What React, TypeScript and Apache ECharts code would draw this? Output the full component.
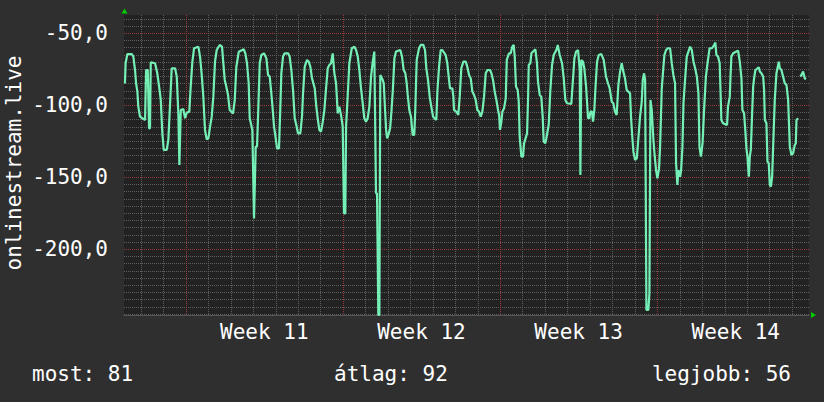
import React, { useEffect, useRef } from "react";
import * as echarts from "echarts";

// Hours relative to the start (Monday 00:00) of Week 11
const hours: number[] = [
  -65, -64.3, -62.4, -57.7, -56, -54.2, -53.1, -51.7, -50.7, -48.9, -43.5, -42.4, -40.6, -39.2, -38.2, -37.4, -32.8, -30.4, -28.2, -26.7,
  -25, -23.5, -20.3, -18.6, -16.8, -15, -11.4, -9.6, -7.9, -6.8, -5.3, -2.6, -0.7, 1.1, 3.8, 5.3, 7.1, 8.9, 13.5, 15.3,
  17.1, 18.8, 20.6, 22.4, 24.2, 26, 27.8, 29.5, 31.3, 33.1,
  36.3, 38.8, 39.9, 41.7, 43.4, 45.2, 47, 50.6, 52.4, 54.1, 56.7, 62, 63.7, 65.5, 67.3, 68.4, 71.2, 73, 74.8, 76.2,
  77.3, 79.1, 80.8, 83.7, 86.2, 88, 89.8, 91.5, 92.6, 94.4, 96.2, 97.6, 99.7, 101.1, 102.2, 104, 105.8, 109.4, 111.1, 112.9,
  114.7, 116.5, 118.2, 120, 122.5, 124.3, 125.4, 127.2, 129.7, 131.5, 133.2, 135, 137.9, 139.6, 141.1,
  142.8, 144.6, 146.5, 148.2, 150, 151.8, 153.5, 155.3, 157.1, 158.9, 160.7, 162.5, 164.2, 166, 167.8, 169.2, 170.6, 171.4, 173.2, 174.9,
  177.5, 180.3, 182.1, 183.9, 185.6, 187.4, 189.2, 190.9, 192.7, 194.5, 196.3, 198.1, 199.9, 201.6, 203.4, 204.5, 205.9, 207, 208, 210.6,
  211.7, 213.1, 214.2, 215.3, 217.1, 218.5, 219.9, 221.4, 223.1, 224.8, 229.4, 231.2, 233, 234.8, 236.2, 237.3, 239, 240.8, 242.6, 244.3, 245.4,
  246.9, 249.4, 251.2, 254, 255.8, 257.2, 259, 260.8, 262.5, 264.4, 267.9, 269, 270.8, 272.6, 274.3, 277.9, 279.6, 281.5, 282.5, 285,
  286.1, 286.8, 289.3, 291.4, 292.9, 294.6, 296.8, 299.3, 301, 302.9, 304.7, 306.4, 308.2, 310, 311.7, 313.5, 315.4, 317.1, 318.9, 320.7,
  322.5, 325.3, 326.8, 328.5, 330.3, 332.1, 333.9, 335, 336, 337.4, 338.5, 340.3, 342.1, 343.2, 345.6, 347.4, 349.1,
  350.6, 351.7, 353.1, 354.9, 356, 357, 358.8, 360.6, 361.7, 364.9, 366, 366.7, 368.4, 369.5, 373.8, 375.5, 376.6, 378.4, 380.1, 381.6,
  382.7, 384.4, 385.5, 388, 389.8, 391.6, 393.4, 396.2, 397.7, 399.8, 402.3, 404.1, 405.8, 407.6, 412.2, 413.7, 415.5, 417.3, 419.4, 421.2,
  421.9, 422.9, 424.7, 426.1, 428, 430.1, 431.5, 432.6, 434.3, 435.4, 436.8, 437.9, 439.7, 441.5, 444.3, 446.8, 449.3, 451.4, 453.2,
  455.4, 457.1, 458.9, 460.7, 462.5, 464.3, 466.1, 467.8, 469.6, 471.4, 475, 476.1, 477.5, 478.6, 480.4, 482.2, 483.9, 485.7, 487.5, 488.6,
  490, 491.1, 492.5, 494.6, 495.7, 496.8, 498.2, 500, 501.4, 502.8, 504.2, 506, 507.1, 508.9, 510.7, 511.7, 513.5, 515.3, 517.8, 519.6,
  521.3, 523.1, 524.2, 525.6, 526.7, 528.5, 529.6, 531, 532.1, 533.8, 535.6, 537.4, 539.2, 541, 542.8, 544.6, 546.4, 548.1, 549.2, 550.7,
  552.5, 554.3, 556.1, 557.8, 560,
  562.6, 564.8, 566.2, 567.3, 569.1, 570.8, 571.9, 572.6, 574.4, 578.7, 579.7, 581.6, 582.3, 583.3, 585.2, 588.7, 590.5, 592.3, 594.1, 595.1,
  596.9, 598.3, 599.4, 600.5, 602, 603, 604.1, 605.5, 606.6, 607.6, 609, 612.6, 613.7, 615.4, 617.3, 618.3, 619.1, 620.8, 621.9, 623.3,
  624.4, 625.5, 626.9, 627.9, 629.7, 631.5, 634, 635.1, 636.8, 638.6, 640.4, 642.2, 644, 645.8, 647.5, 649.3, 651.1, 652.2, 652.9, 654.7,
  656, 657.1, 658.2, 660, 661.8, 662.9,
];

const values: (number | null)[] = [
  -85, -71, -64.6, -64.6, -66.4, -75.7, -84.9, -90.7, -101.1, -108.1, -110.4, -75.7, -75.7, -116.2, -116.2, -70.4, -71, -78, -88.4, -96.5,
  -119.7, -131.2, -131.2, -124.3, -100, -74.5, -74.5, -80.3, -105.8, -141.7, -103.5, -102.8, -109.2, -105.3, -104.6, -87.3, -69.9, -60.6, -59.5, -66.4,
  -79.1, -94.2, -117.3, -123.8, -123.1, -115, -108.1, -94.2, -69.9, -61.8,
  -58.3, -59.5, -68.7, -82.6, -87.3, -93, -103.5, -105.8, -96.5, -73.4, -63, -61.3, -64.1, -71, -84.9, -109.2, -117.3, -178.7, -128.9, -128.9,
  -108.1, -71, -65.3, -64.1, -67.6, -79.1, -80.3, -91.9, -100, -115, -123.1, -130.1, -130.1, -102.3, -78, -66.4, -64.1, -64.1, -66.4, -75.7,
  -89.6, -109.2, -113.9, -119.7, -119.7, -108.1, -91.9, -73.4, -68.7, -69.9, -73.4, -81.5, -88.4, -101.1, -109.2,
  -117.3, -118.5, -111.6, -103.5, -88.4, -74.5, -72.2, -71, -64.1, -78, -84.9, -105.8, -101.1, -106.9, -115, -175.2, -175.2, -115, -93, -71,
  -60.6, -59.5, -61.8, -66.4, -75.7, -88.4, -98.8, -109.2, -111.6, -109.2, -101.1, -80.3, -69.9, -62.9, -161.3, -161.3, -245.8, -245.8, -79.1, -82.6,
  -84.9, -103.5, -117.3, -123.1, -119.7, -116.2, -104.6, -89.6, -67.6, -62.9, -61.8, -66.4, -75.7, -78, -84.9, -93, -103.5, -108.1, -120.8, -120.8, -103.5,
  -68.7, -60.6, -58.3, -58.3, -61.8, -74.5, -82.6, -94.2, -101.1, -108.1, -110.4, -90.7, -73.4, -61.8, -61.8, -65.3, -71, -82.6, -88.4, -88.4,
  -94.2, -103.5, -104.6, -106.9, -94.2, -74.5, -69.9, -69.9, -73.4, -79.1, -81.5, -90.7, -93, -96.5, -103.5, -104.6, -108.1, -104.6, -94.2, -78,
  -75.7, -75.7, -78, -82.6, -90.7, -96.5, -103.5, -106.9, -117.3, -111.6, -104.6, -102.3, -95.4, -68.7, -64.1, -64.1, -59.5,
  -58.3, -66.4, -87.3, -89.6, -97.7, -122, -135.9, -135.9, -126.6, -119.7, -94.2, -72.2, -71, -64.1, -61.3, -71, -83.8, -93, -94.2, -108.1,
  -125.4, -126.6, -123.1, -113.9, -89.6, -72.2, -65.3, -61.8, -58.3, -65.3, -71, -81.5, -96.5, -98.8, -99.3, -84.9, -67.6, -62.9, -61.8, -75.7,
  -148.6, -68.7, -69.9, -74.5, -87.3, -109.2, -109.2, -104.6, -104.6, -111.6, -103.5, -89.6, -69.9, -65.3, -64.6, -68.7, -80.3, -84.9, -88.4,
  -97.7, -98.8, -104.6, -106.9, -86.1, -76.8, -71, -76.8, -81.5, -89.6, -91.9, -109.2, -123.1, -132.4, -138.2, -137, -123.1, -108.1, -97.7, -82.6,
  -78, -82.6, -242.3, -242.3, -230.8, -96.5, -103.5, -124.3, -135.9, -145.1, -150.9, -144, -128.9, -88.4, -73.4, -65.3, -61.8, -60.6, -60.6, -71,
  -79.1, -84.9, -140.5, -155.5, -145.1, -149.8, -145.1, -128.9, -98.8, -82.6, -66.4, -62.9, -59.5, -61.8, -69.9, -74.5, -80.3, -91.9, -128.9, -135.9,
  -126.6, -101.1, -80.3, -71, -60.6,
  -60.6, -58.3, -56.7, -65.3, -66.4, -71, -94.2, -110.4, -112.7, -113.9, -101.1, -94.2, -81.5, -66.4, -64.1, -62.9, -62.3, -69.9, -81.5, -103.5,
  -105.8, -118.5, -130.1, -135.9, -149.8, -135.9, -131.2, -105.8, -87.3, -81.5, -75.7, -73.8, -76.8, -78, -80.3, -89.6, -110.4, -112.7, -139.3, -140.5,
  -155.5, -156.7, -149.8, -130.1, -96.5, -78, -69.9, -74.5, -75.7, -80.3, -84.9, -86.1, -96.5, -128.9, -134.7, -133.5, -127.8, -126.6, -110.4, -109.2,
  null, -80.3, -79.1, -76.8, -81.5, -82.2,
];

const weekCenters = [84, 252, 420, 588];
const weekLabels = ["Week 11", "Week 12", "Week 13", "Week 14"];
const weekStarts = [0, 168, 336, 504];
const dayLines = [-48, -24, 24, 48, 72, 96, 120, 144, 192, 216, 240, 264, 288, 312, 360, 384, 408, 432, 456, 480, 528, 552, 576, 600, 624, 648];
const yTicks = [-200, -150, -100, -50];
const yMinor = [
  -245, -240, -235, -230, -225, -220, -215, -210, -205, -195, -190, -185, -180, -175, -170, -165, -160, -155,
  -145, -140, -135, -130, -125, -120, -115, -110, -105, -95, -90, -85, -80, -75, -70, -65, -60, -55, -45, -40,
];
const statTexts = ["most: 81", "átlag: 92", "legjobb: 56"];
const axisName = "onlinestream.live";

const X_MIN = -66;
const X_MAX = 666.3;
const Y_MIN = -245.8;
const Y_MAX = -37.5;

const FONT = "DejaVu Sans Mono";
const FS = 21;
const MINOR = "#5e5e5e";
const MAJOR = "#9c3a3a";

export default function App() {
  const ref = useRef<HTMLDivElement>(null);

  useEffect(() => {
    if (!ref.current) return;
    const chart = echarts.init(ref.current, undefined, { renderer: "svg" });

    const lineData = hours.map((h, i) => [h, values[i] === null ? "-" : values[i]]);
    const font = `${FS}px "${FONT}"`;

    // grid tables: [x, y, isMajor, isVertical]
    const gridData = [
      ...yMinor.map((v) => [X_MIN, v, 0, 0]),
      ...yTicks.map((v) => [X_MIN, v, 1, 0]),
      ...dayLines.map((d) => [d, Y_MAX, 0, 1]),
      ...weekStarts.map((d) => [d, Y_MAX, 1, 1]),
    ];

    const gridRender = (params: any, api: any) => {
      const cs = params.coordSys;
      const p = api.coord([api.value(0), api.value(1)]);
      const major = api.value(2) === 1;
      const vertical = api.value(3) === 1;
      const style = { stroke: major ? MAJOR : MINOR, lineWidth: 1, lineDash: [1, 1] };
      if (vertical) {
        const x = Math.round(p[0]) + 0.5;
        return {
          type: "line",
          silent: true,
          shape: { x1: x, y1: cs.y, x2: x, y2: cs.y + cs.height },
          style,
        };
      }
      const y = Math.round(p[1]) + 0.5;
      return {
        type: "line",
        silent: true,
        shape: { x1: cs.x, y1: y, x2: cs.x + cs.width, y2: y },
        style,
      };
    };

    chart.setOption({
      animation: false,
      backgroundColor: "#2f2f2f",
      grid: {
        left: 124,
        right: 15,
        top: 15,
        bottom: 87,
        show: true,
        backgroundColor: "#222222",
        borderWidth: 0,
      },
      xAxis: {
        type: "value",
        min: X_MIN,
        max: X_MAX,
        axisLine: { show: true, onZero: false, lineStyle: { color: "#555555", width: 1 } },
        axisTick: { show: false },
        splitLine: { show: false },
        axisLabel: {
          customValues: weekCenters,
          formatter: (v: number) => {
            const i = weekCenters.indexOf(v);
            return i >= 0 ? weekLabels[i] : "";
          },
          color: "#ffffff",
          fontFamily: FONT,
          fontSize: FS,
          margin: 6,
        },
      },
      yAxis: {
        type: "value",
        min: Y_MIN,
        max: Y_MAX,
        axisLine: { show: false },
        axisTick: { show: false },
        splitLine: { show: false },
        axisLabel: {
          customValues: yTicks,
          formatter: (v: number) => v.toFixed(1).replace(".", ","),
          color: "#ffffff",
          fontFamily: FONT,
          fontSize: FS,
          margin: 16,
        },
      },
      graphic: [
        {
          type: "text",
          x: 14,
          y: 163,
          rotation: Math.PI / 2,
          style: { text: axisName, fill: "#ffffff", font, align: "center", verticalAlign: "middle" },
        },
        {
          type: "text",
          x: 32,
          y: 374,
          style: { text: statTexts[0], fill: "#ffffff", font, align: "left", verticalAlign: "middle" },
        },
        {
          type: "text",
          x: 334,
          y: 374,
          style: { text: statTexts[1], fill: "#ffffff", font, align: "left", verticalAlign: "middle" },
        },
        {
          type: "text",
          x: 791,
          y: 374,
          style: { text: statTexts[2], fill: "#ffffff", font, align: "right", verticalAlign: "middle" },
        },
        {
          type: "polygon",
          shape: { points: [[121.5, 13.5], [127.5, 13.5], [124.5, 8.5]] },
          style: { fill: "#00cc00" },
        },
        {
          type: "polygon",
          shape: { points: [[811, 312], [811, 318], [816, 315]] },
          style: { fill: "#00cc00" },
        },
      ],
      series: [
        {
          type: "custom",
          renderItem: gridRender,
          data: gridData,
          encode: { x: 0, y: 1 },
          clip: false,
          silent: true,
          z: 1,
        },
        {
          type: "line",
          data: lineData,
          z: 3,
          showSymbol: false,
          connectNulls: false,
          silent: true,
          lineStyle: { color: "#74f0b6", width: 2.2 },
        },
      ],
    });

    return () => chart.dispose();
  }, []);

  return (
    <div
      ref={ref}
      style={{ position: "fixed", left: 0, top: 0, width: 824, height: 402 }}
    />
  );
}
